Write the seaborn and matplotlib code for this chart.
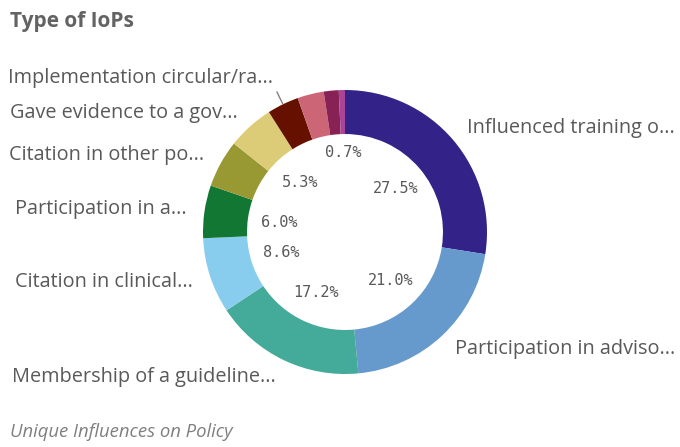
import numpy as np
import matplotlib
matplotlib.use("Agg")
import matplotlib.pyplot as plt
import seaborn as sns

# slices, clockwise from 12 o'clock
categories = [
    "Influenced training o...",
    "Participation in adviso...",
    "Membership of a guideline...",
    "Citation in clinical...",
    "Participation in a...",
    "Citation in other po...",
    "Gave evidence to a gov...",
    "Implementation circular/ra...",
    "",
    "",
    "",
]
shares = [27.5, 21.0, 17.2, 8.6, 6.0, 5.4, 5.3, 3.6, 3.0, 1.7, 0.7]
pct_text = ["27.5%", "21.0%", "17.2%", "8.6%", "6.0%", None, "5.3%",
            None, None, None, "0.7%"]
palette = ["#332288", "#6699cc", "#44aa99", "#88ccee", "#117733", "#999933",
           "#ddcc77", "#661100", "#cc6677", "#882255", "#aa4499"]

sns.set_theme(style="white")
plt.rcParams['font.family'] = ['Open Sans', 'DejaVu Sans']

W, H = 680, 447
cx, cy, R = 345, 232, 142  # pixel layout of the donut

fig = plt.figure(figsize=(W / 100, H / 100), dpi=100)
ax = fig.add_axes([0, 0, 1, 1])
colors = sns.color_palette(palette)
wedges, _ = ax.pie(shares, colors=colors, startangle=90, counterclock=False,
                   radius=1, wedgeprops=dict(width=0.31, linewidth=0))
ax.set_xlim(-cx / R, (W - cx) / R)
ax.set_ylim(-(H - cy) / R, cy / R)
ax.axis('off')

text_grey = "#595959"
total = sum(shares)
cum = np.cumsum([0] + shares[:-1])
for i, (name, v) in enumerate(zip(categories, shares)):
    mid = (cum[i] + v / 2) / total * 2 * np.pi  # clockwise from top
    sx, sy = np.sin(mid), np.cos(mid)
    if pct_text[i]:
        r = 0.56 if v < 1 else 0.47
        ax.text(r * sx, r * sy, pct_text[i], ha='center', va='center',
                fontsize=11, color=text_grey, family='DejaVu Sans Mono')
    if not name:
        continue
    ha = 'left' if sx > 0 else 'right'
    if i == 7:
        ax.plot([sx * 1.0, sx * 1.1], [sy * 1.0, sy * 1.1], color="#777777",
                lw=0.9, solid_capstyle='butt')
        ax.text(1.16 * sx, 1.16 * sy + 0.038, name, ha=ha, va='center',
                fontsize=14.3, color=text_grey)
    else:
        ax.text(1.13 * sx, 1.13 * sy, name, ha=ha, va='center',
                fontsize=14.3, color=text_grey)

fig.text(10 / W, 1 - 22 / H, "Type of IoPs", ha='left', va='center',
         fontsize=15, fontweight='bold', color="#636363")
fig.text(10 / W, 1 - 432 / H, "Unique Influences on Policy", ha='left',
         va='center', fontsize=13.3, style='italic', color="#7f7f7f")

fig.savefig("out.png", dpi=100)
